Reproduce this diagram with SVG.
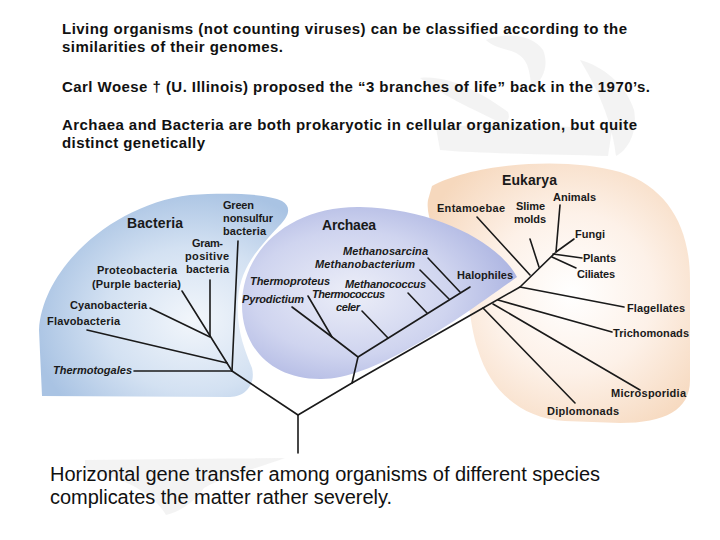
<svg xmlns="http://www.w3.org/2000/svg" width="720" height="540" viewBox="0 0 720 540">
<defs>
<radialGradient id="gBac" cx="0.62" cy="0.62" r="0.65">
<stop offset="0" stop-color="#f2f6fb"/><stop offset="0.55" stop-color="#d3e1f2"/><stop offset="1" stop-color="#a9c3e3"/>
</radialGradient>
<radialGradient id="gArc" cx="0.4" cy="0.5" r="0.6">
<stop offset="0" stop-color="#eceef8"/><stop offset="0.6" stop-color="#cfd4ef"/><stop offset="1" stop-color="#aeb6e2"/>
</radialGradient>
<radialGradient id="gEuk" cx="0.55" cy="0.5" r="0.62">
<stop offset="0" stop-color="#ffffff"/><stop offset="0.5" stop-color="#fdf1e8"/><stop offset="1" stop-color="#f6d8bd"/>
</radialGradient>
<style>
.top{font-family:"Liberation Sans",Arial,sans-serif;font-weight:bold;font-size:15px;fill:#111}
.bot{font-family:"Liberation Sans",Arial,sans-serif;font-size:20px;fill:#111}
.lb{font-family:"Liberation Sans",Arial,sans-serif;font-weight:bold;font-size:11px;fill:#1a1a1a}
.it{font-style:italic}
.ttl{font-size:14px}
.br{fill:none;stroke:#1a1a1a;stroke-width:1.6;stroke-linecap:round;stroke-linejoin:round}
.wm{fill:#dcdcdc;opacity:0.35}
</style>
</defs>
<rect width="720" height="540" fill="#ffffff"/>
<g id="watermark">
<path class="wm" d="M486,40 C505,32 532,34 543,50 C549,64 544,80 532,88 C529,74 530,60 516,53 C505,48 494,48 486,40 Z"/>
<path class="wm" d="M420,78 C446,75 478,90 508,112 C511,120 506,124 499,122 C470,108 442,95 420,78 Z"/>
<path class="wm" d="M436,128 C482,122 560,125 612,130 L608,156 C560,154 482,154 440,150 Z"/>
<path class="wm" d="M580,60 C602,66 626,84 634,110 C638,132 628,150 616,156 C613,128 602,96 580,60 Z"/>
<path class="wm" d="M85,460 L285,458 C258,468 226,476 204,488 C194,502 180,512 166,515 C156,498 134,480 85,470 Z"/>
</g>
<g id="text-top">
<text class="top" x="62" y="34" textLength="565">Living organisms (not counting viruses) can be classified according to the</text>
<text class="top" x="62" y="52" textLength="221">similarities of their genomes.</text>
<text class="top" x="62" y="92" textLength="588">Carl Woese † (U. Illinois) proposed the “3 branches of life” back in the 1970’s.</text>
<text class="top" x="62" y="130" textLength="575">Archaea and Bacteria are both prokaryotic in cellular organization, but quite</text>
<text class="top" x="62" y="148" textLength="143">distinct genetically</text>
</g>
<g id="eukarya">
<path fill="url(#gEuk)" d="M432,186 C470,165 560,155 620,172 C670,188 690,230 690,280 L690,380 C690,410 665,423 620,423 L565,421 C520,418 490,390 478,350 C468,320 470,290 460,270 C440,245 425,220 428,200 Z"/>
<text class="lb ttl" x="502" y="185" textLength="55">Eukarya</text>
</g>
<g id="bacteria">
<path fill="url(#gBac)" d="M42,396 L39,330 C42,270 110,205 190,195 C230,192 268,194 282,201 C292,207 289,216 279,226 C262,245 240,265 238,300 C236,330 245,350 252,368 C256,385 245,397 230,397 Z"/>
<text class="lb ttl" x="127" y="228" textLength="56">Bacteria</text>
</g>
<g id="archaea">
<path fill="url(#gArc)" d="M517,277 C500,245 440,209 360,207 C290,206 242,250 242,305 C242,348 272,379 320,379 C372,380 450,325 517,277 Z"/>
<text class="lb ttl" x="322" y="230" textLength="54">Archaea</text>
</g>
<g id="connectors">
<path class="br" d="M298,453 L298,415 L232,371"/>
<path class="br" d="M134,371 L232,371"/>
<path class="br" d="M87,330 L227,363"/>
<path class="br" d="M182,291 L232,371"/>
<path class="br" d="M210,280 L210,336"/>
<path class="br" d="M150,308 L210,337"/>
<path class="br" d="M238,241 L232,371"/>
<path class="br" d="M298,415 L352,383 L483,308 L520,287 L555,253"/>
<path class="br" d="M352,383 L358,357 L470,287"/>
<path class="br" d="M358,357 L332,337 L292,307"/>
<path class="br" d="M332,337 L308,296"/>
<path class="br" d="M362,311 L388,338"/>
<path class="br" d="M408,293 L427,313"/>
<path class="br" d="M420,270 L449,299"/>
<path class="br" d="M428,258 L460,292"/>
<path class="br" d="M477,217 L530,275"/>
<path class="br" d="M530,239 L539,267"/>
<path class="br" d="M560,205 L556,252"/>
<path class="br" d="M574,239 L556,252"/>
<path class="br" d="M553,254 L582,258"/>
<path class="br" d="M552,257 L576,268"/>
<path class="br" d="M520,287 L624,307"/>
<path class="br" d="M498,300 L612,332"/>
<path class="br" d="M493,304 L640,390"/>
<path class="br" d="M483,308 L575,403"/>
</g>
<g id="bacteria-labels">
<g id="n-green"><text class="lb" x="223" y="209" textLength="31">Green</text><text class="lb" x="223" y="222" textLength="50">nonsulfur</text><text class="lb" x="223" y="235" textLength="43">bacteria</text></g>
<g id="n-gram"><text class="lb" x="192" y="247" textLength="31">Gram-</text><text class="lb" x="185" y="260" textLength="44">positive</text><text class="lb" x="186" y="273" textLength="43">bacteria</text></g>
<g id="n-proteo"><text class="lb" x="97" y="274" textLength="80">Proteobacteria</text><text class="lb" x="92" y="288" textLength="89">(Purple bacteria)</text></g>
<g id="n-cyano"><text class="lb" x="70" y="309" textLength="77">Cyanobacteria</text></g>
<g id="n-flavo"><text class="lb" x="47" y="325" textLength="73">Flavobacteria</text></g>
<g id="n-thermotogales"><text class="lb it" x="53" y="374" textLength="79">Thermotogales</text></g>
</g>
<g id="archaea-labels">
<g id="n-methanosarcina"><text class="lb it" x="343" y="255" textLength="85">Methanosarcina</text></g>
<g id="n-methanobacterium"><text class="lb it" x="315" y="268" textLength="100">Methanobacterium</text></g>
<g id="n-thermoproteus"><text class="lb it" x="250" y="285" textLength="80">Thermoproteus</text></g>
<g id="n-methanococcus"><text class="lb it" x="345" y="288" textLength="81">Methanococcus</text></g>
<g id="n-pyrodictium"><text class="lb it" x="242" y="303" textLength="62">Pyrodictium</text></g>
<g id="n-thermococcus"><text class="lb it" x="312" y="298" textLength="73">Thermococcus</text><text class="lb it" x="336" y="311" textLength="24">celer</text></g>
<g id="n-halophiles"><text class="lb" x="457" y="279" textLength="56">Halophiles</text></g>
</g>
<g id="eukarya-labels">
<g id="n-entamoebae"><text class="lb" x="437" y="212" textLength="68">Entamoebae</text></g>
<g id="n-slime"><text class="lb" x="516" y="210" textLength="29">Slime</text><text class="lb" x="514" y="223" textLength="32">molds</text></g>
<g id="n-animals"><text class="lb" x="553" y="201" textLength="43">Animals</text></g>
<g id="n-fungi"><text class="lb" x="575" y="238" textLength="30">Fungi</text></g>
<g id="n-plants"><text class="lb" x="583" y="262" textLength="33">Plants</text></g>
<g id="n-ciliates"><text class="lb" x="577" y="278" textLength="38">Ciliates</text></g>
<g id="n-flagellates"><text class="lb" x="627" y="312" textLength="58">Flagellates</text></g>
<g id="n-trichomonads"><text class="lb" x="613" y="337" textLength="76">Trichomonads</text></g>
<g id="n-microsporidia"><text class="lb" x="611" y="397" textLength="75">Microsporidia</text></g>
<g id="n-diplomonads"><text class="lb" x="547" y="415" textLength="72">Diplomonads</text></g>
</g>
<g id="text-bottom">
<text class="bot" x="50" y="481" textLength="550">Horizontal gene transfer among organisms of different species</text>
<text class="bot" x="50" y="504" textLength="342">complicates the matter rather severely.</text>
</g>
</svg>
